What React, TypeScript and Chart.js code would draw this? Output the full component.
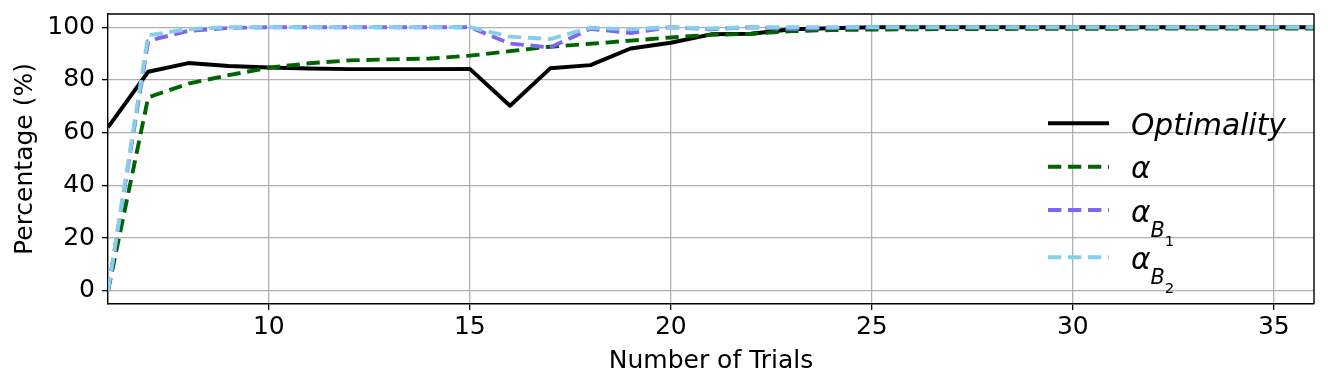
import React, { useEffect, useRef } from "react";
import { Chart, registerables } from "chart.js";

Chart.register(...registerables);

// ---- data ----
const trials = [6, 7, 8, 9, 10, 11, 12, 13, 14, 15, 16, 17, 18, 19, 20, 21, 22, 23, 24, 25, 26, 27, 28, 29, 30, 31, 32, 33, 34, 35, 36];
const optimality = [62, 83.1, 86.4, 85.3, 84.7, 84.3, 84.1, 84.1, 84.1, 84.2, 70.2, 84.4, 85.6, 91.9, 94.1, 97.3, 97.5, 99.2, 99.6, 100, 100, 100, 100, 100, 100, 100, 100, 100, 100, 100, 100];
const alpha = [0, 73.4, 78.6, 81.8, 84.6, 86.3, 87.4, 87.8, 88.1, 89.2, 90.9, 92.6, 93.7, 94.9, 96.1, 97.1, 97.5, 98.5, 98.9, 99.1, 99.2, 99.3, 99.3, 99.4, 99.4, 99.4, 99.5, 99.5, 99.5, 99.5, 99.5];
const alphaB1 = [0, 94.8, 98.6, 99.7, 100, 100, 100, 100, 100, 100, 93.8, 92.3, 99.4, 97.8, 100, 99.2, 100, 99.3, 99.7, 100, 100, 100, 100, 100, 100, 100, 100, 100, 100, 100, 100];
const alphaB2 = [0, 96.9, 99.3, 100, 100, 100, 100, 100, 100, 100, 96.4, 95.5, 99.8, 99.2, 100, 99.5, 100, 100, 100, 100, 100, 100, 100, 100, 100, 100, 100, 100, 100, 100, 100];
const xTicks = [10, 15, 20, 25, 30, 35];
const yTicks = [0, 20, 40, 60, 80, 100];
const xTitle = "Number of Trials";
const yTitle = "Percentage (%)";

// legend label parts: [text, level] (0 = main, 1 = subscript, 2 = sub-subscript)
const legendOptimality: [string, number][] = [["Optimality", 0]];
const legendAlpha: [string, number][] = [["α", 0]];
const legendAlphaB1: [string, number][] = [["α", 0], ["B", 1], ["1", 2]];
const legendAlphaB2: [string, number][] = [["α", 0], ["B", 1], ["2", 2]];

const FONT = "'DejaVu Sans', sans-serif";
const DASH = [13.3, 6.7];
const LW = 3.9;

const seriesDefs = [
  { label: legendOptimality, values: optimality, color: "#000000", dash: [] as number[], order: 4 },
  { label: legendAlpha, values: alpha, color: "#006400", dash: DASH, order: 3 },
  { label: legendAlphaB1, values: alphaB1, color: "#7B68EE", dash: DASH, order: 2 },
  { label: legendAlphaB2, values: alphaB2, color: "#87CEEB", dash: DASH, order: 1 },
];

const frameAndLegend = {
  id: "frameAndLegend",
  afterDatasetsDraw(chart: any) {
    const { ctx, chartArea } = chart;
    ctx.save();
    ctx.strokeStyle = "#000";
    ctx.lineWidth = 1.4;
    ctx.beginPath();
    ctx.moveTo(chartArea.left, chartArea.top);
    ctx.lineTo(chartArea.right, chartArea.top);
    ctx.lineTo(chartArea.right, chartArea.bottom);
    ctx.stroke();
    ctx.restore();
  },
  afterDraw(chart: any) {
    const { ctx, chartArea } = chart;
    const rowOffsets = [109.3, 152.7, 196, 243.3];
    const lineX0 = chartArea.right - 266;
    const lineX1 = chartArea.right - 205;
    const textX = chartArea.right - 183;
    const sizes = [29.7, 20.8, 14.8];
    const drops = [0, 15.5, 24.5];
    ctx.save();
    seriesDefs.forEach((s, i) => {
      const y = chartArea.top + rowOffsets[i];
      ctx.beginPath();
      ctx.strokeStyle = s.color;
      ctx.lineWidth = LW;
      ctx.lineCap = "butt";
      ctx.setLineDash(s.dash);
      ctx.moveTo(lineX0, y);
      ctx.lineTo(lineX1, y);
      ctx.stroke();
      ctx.setLineDash([]);
      let x = textX;
      const base = y + 11.5;
      ctx.fillStyle = "#000";
      ctx.textBaseline = "alphabetic";
      ctx.textAlign = "left";
      s.label.forEach(([t, lvl]) => {
        const style = lvl === 2 ? "" : "italic ";
        ctx.font = `${style}${sizes[lvl]}px ${FONT}`;
        ctx.fillText(t, x, base + drops[lvl]);
        x += ctx.measureText(t).width;
      });
    });
    ctx.restore();
  },
};

export default function App() {
  const ref = useRef<HTMLCanvasElement | null>(null);
  useEffect(() => {
    if (!ref.current) return;
    const chart = new Chart(ref.current, {
      type: "line",
      data: {
        datasets: seriesDefs.map((s) => ({
          label: s.label.map((p) => p[0]).join(""),
          data: trials.map((t, i) => ({ x: t, y: s.values[i] })),
          borderColor: s.color,
          backgroundColor: s.color,
          borderWidth: LW,
          borderDash: s.dash,
          borderCapStyle: "butt" as const,
          borderJoinStyle: "round" as const,
          pointRadius: 0,
          tension: 0,
          fill: false,
          order: s.order,
        })),
      },
      options: {
        animation: false,
        responsive: false,
        maintainAspectRatio: false,
        layout: { padding: { left: 0, right: 14, top: 14, bottom: 0 } },
        plugins: { legend: { display: false }, tooltip: { enabled: false } },
        scales: {
          x: {
            type: "linear",
            min: 6,
            max: 36,
            afterBuildTicks: (scale: any) => {
              scale.ticks = xTicks.map((v) => ({ value: v }));
            },
            afterFit: (scale: any) => {
              scale.height = 85;
              scale.paddingLeft = 0;
              scale.paddingRight = 0;
            },
            ticks: {
              color: "#000",
              font: { family: FONT, size: 25, lineHeight: 1 },
              padding: 5,
              maxRotation: 0,
              autoSkip: false,
            },
            grid: { color: "#b0b0b0", lineWidth: 1.3, tickColor: "#000", tickLength: 6, tickWidth: 1.3 },
            border: { display: true, color: "#000", width: 1.4 },
            title: {
              display: true,
              text: xTitle,
              color: "#000",
              font: { family: FONT, size: 25, lineHeight: 1.2 },
              padding: { top: 0, bottom: 13 },
            },
          },
          y: {
            type: "linear",
            min: -5,
            max: 105,
            afterBuildTicks: (scale: any) => {
              scale.ticks = yTicks.map((v) => ({ value: v }));
            },
            afterFit: (scale: any) => {
              scale.width = 108;
              scale.paddingTop = 0;
              scale.paddingBottom = 0;
            },
            ticks: {
              color: "#000",
              font: { family: FONT, size: 25, lineHeight: 1 },
              padding: 7,
              autoSkip: false,
            },
            grid: { color: "#b0b0b0", lineWidth: 1.3, tickColor: "#000", tickLength: 6, tickWidth: 1.3 },
            border: { display: true, color: "#000", width: 1.4 },
            title: {
              display: true,
              text: yTitle,
              color: "#000",
              font: { family: FONT, size: 25, lineHeight: 1.2 },
              padding: { top: 10, bottom: 0 },
            },
          },
        },
      },
      plugins: [frameAndLegend],
    });
    return () => chart.destroy();
  }, []);
  return (
    <div style={{ position: "absolute", left: 0, top: 0, width: 1328, height: 389, background: "#fff" }}>
      <canvas ref={ref} width={1328} height={389} />
    </div>
  );
}
